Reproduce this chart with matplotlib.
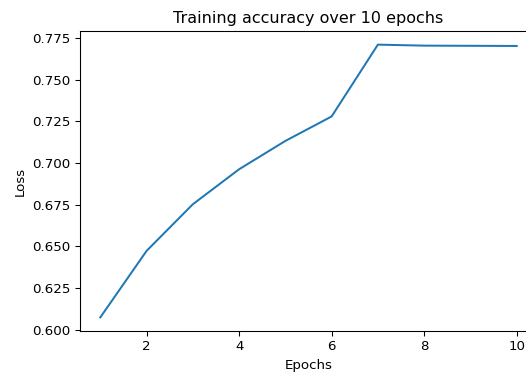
import matplotlib
matplotlib.use("Agg")
import matplotlib.pyplot as plt

# training accuracy per epoch
epochs = [1, 2, 3, 4, 5, 6, 7, 8, 9, 10]
accuracy = [0.6074, 0.6473, 0.6753, 0.6963, 0.7133, 0.7280, 0.7711, 0.7705, 0.7704, 0.7703]

DPI = 96
W, H = 526, 377
fig = plt.figure(figsize=(W / DPI, H / DPI), dpi=DPI)
# axes runs a bit past the right edge, like the cropped original
ax = fig.add_axes([79.5 / W, (H - 331) / H, (537.5 - 79.5) / W, 300 / H])

ax.plot(epochs, accuracy)
ax.set_title("Training accuracy over 10 epochs")
ax.set_xlabel("Epochs")
ax.set_ylabel("Loss")

fig.savefig("out.png", dpi=DPI)
